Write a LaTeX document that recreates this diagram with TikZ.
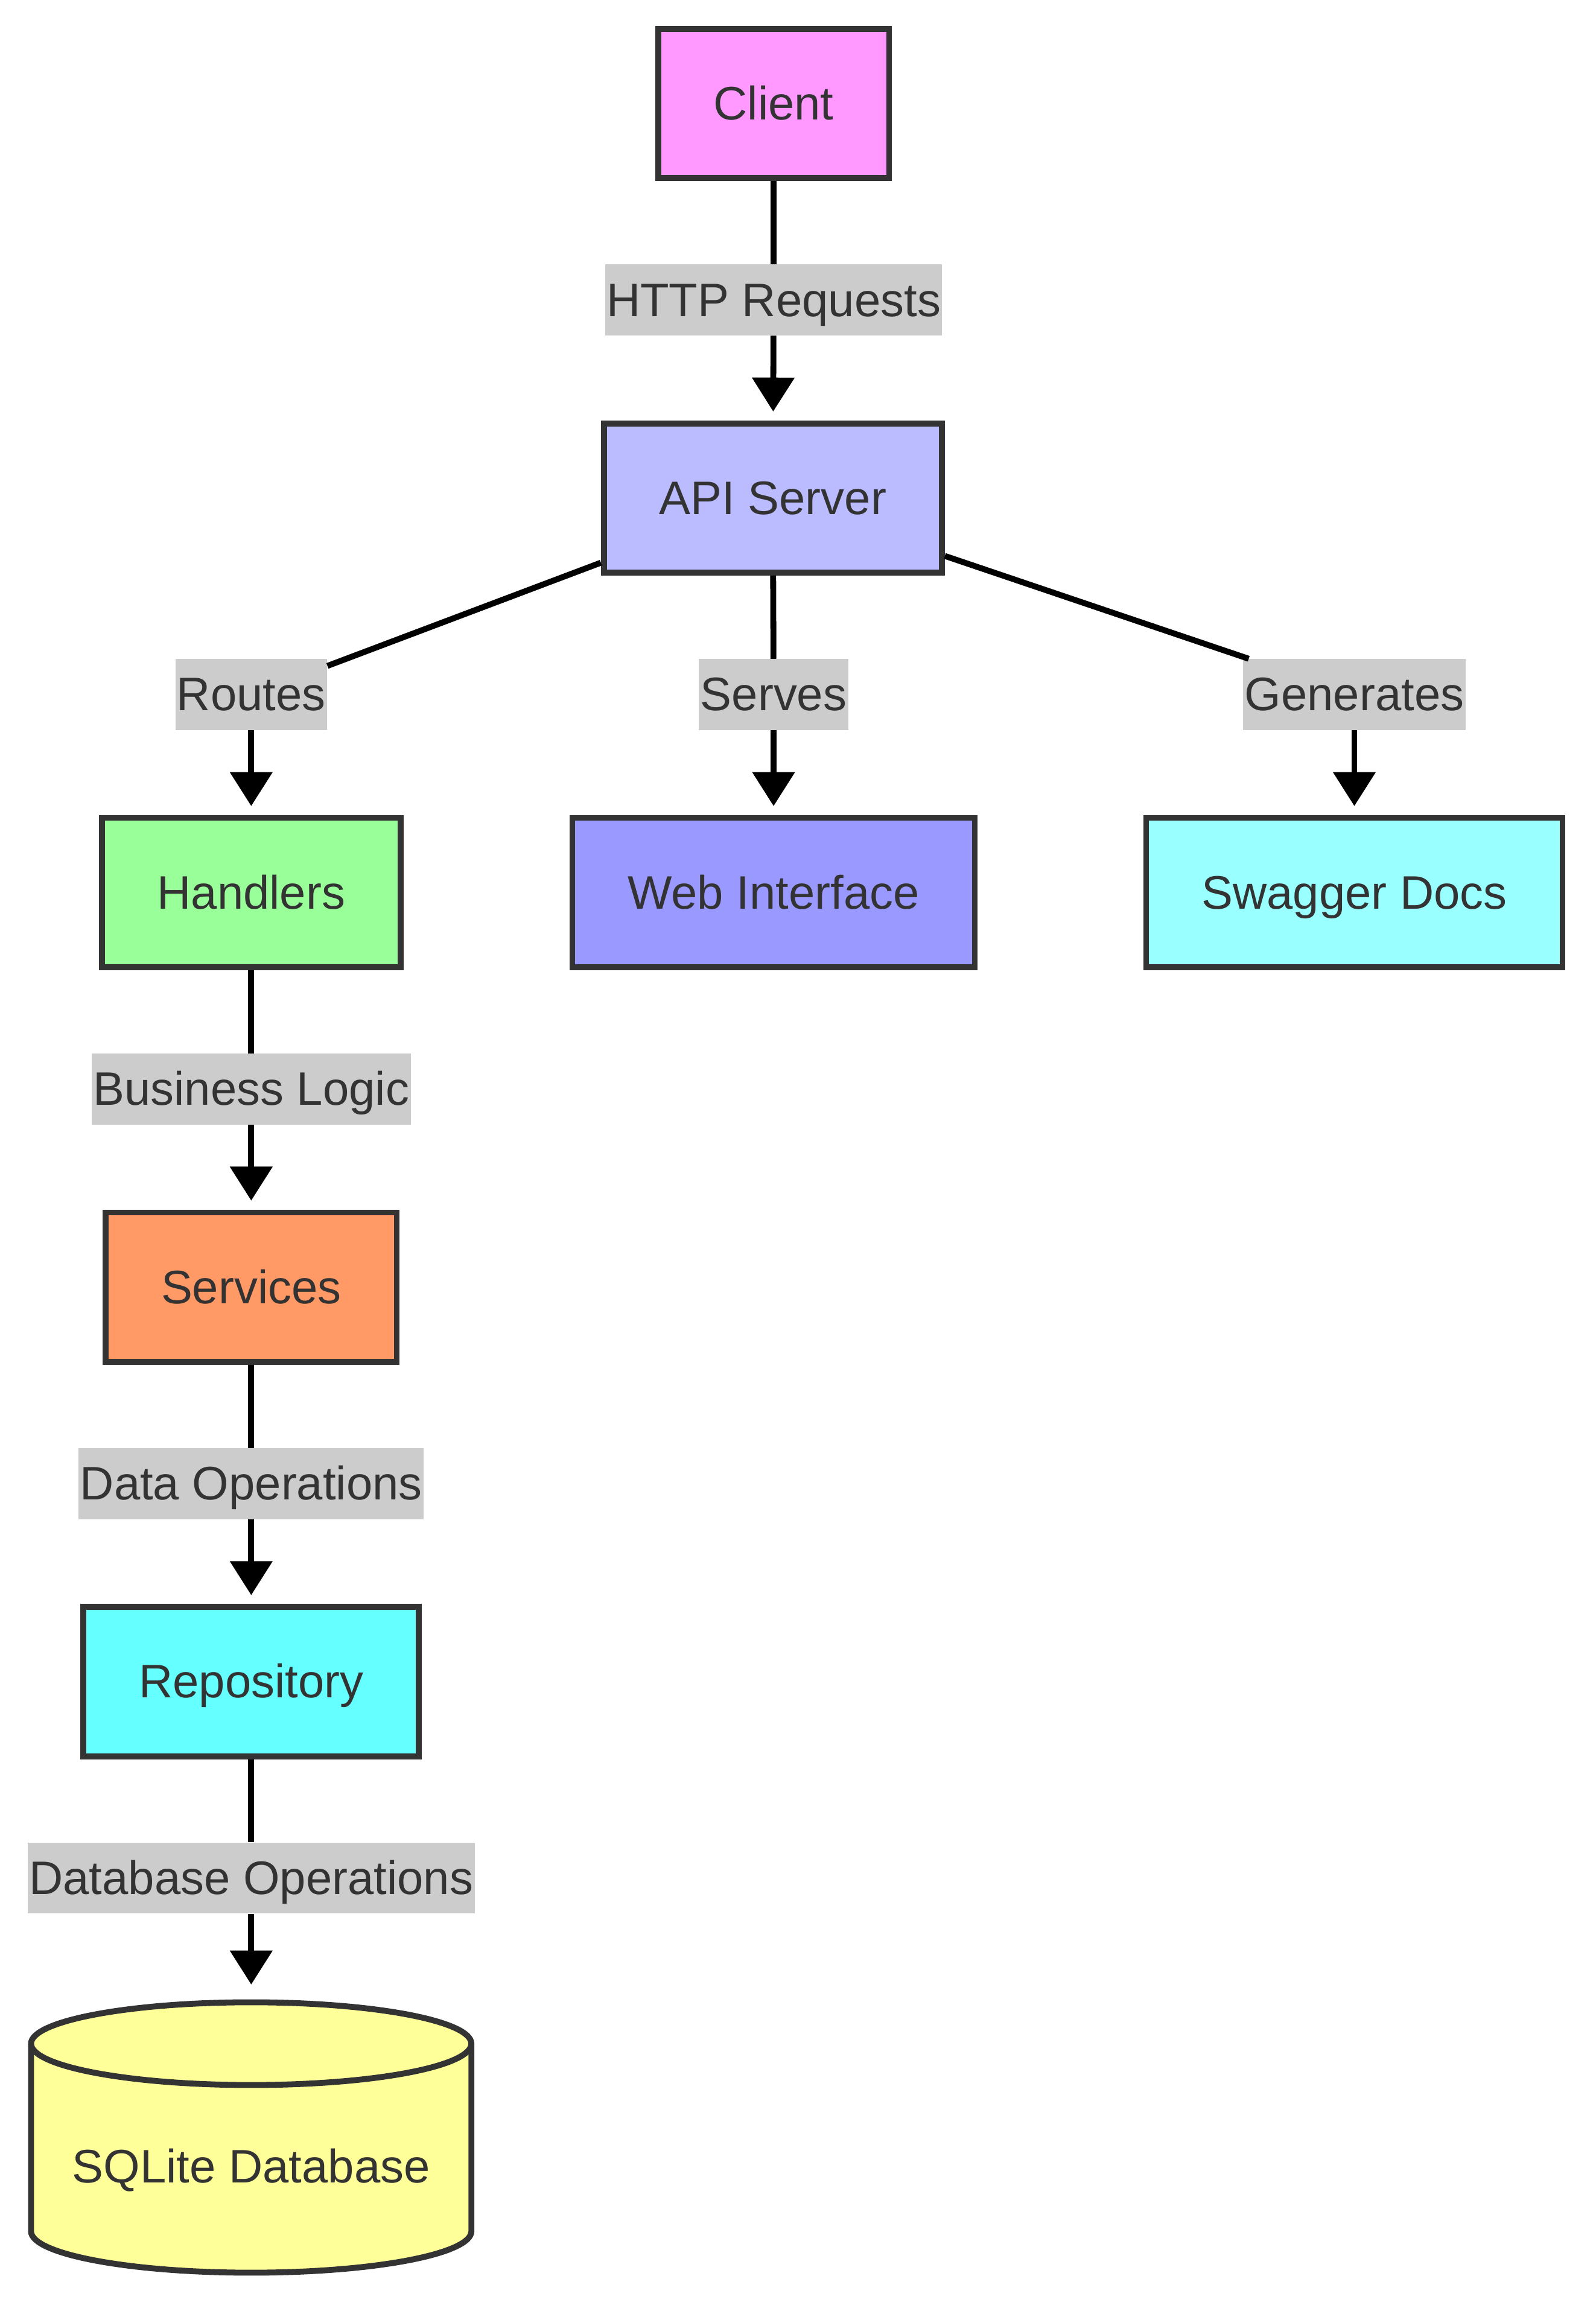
\documentclass[tikz,border=0pt]{standalone}
\usepackage{fontspec}
\setmainfont{Liberation Sans}
\usetikzlibrary{arrows.meta,backgrounds}
\definecolor{textgray}{HTML}{333333}
\definecolor{labelgray}{HTML}{CCCCCC}
\definecolor{clientpink}{HTML}{FF99FF}
\definecolor{apiblue}{HTML}{BBBBFF}
\definecolor{handlergreen}{HTML}{99FF99}
\definecolor{webblue}{HTML}{9999FF}
\definecolor{swaggercyan}{HTML}{99FFFF}
\definecolor{serviceorange}{HTML}{FF9966}
\definecolor{repocyan}{HTML}{66FFFF}
\definecolor{dbyellow}{HTML}{FFFF99}

\begin{document}
\begin{tikzpicture}[x=1pt,y=-1pt,font=\fontsize{31.8pt}{38pt}\selectfont,
  every node/.style={text=textgray},
  block/.style={draw=textgray,line width=4pt,inner xsep=37.5pt,minimum height=101pt,text height=28pt,text depth=6pt},
  elabel/.style={fill=labelgray,inner xsep=1pt,inner ysep=0pt,minimum height=48pt,text height=28pt,text depth=6pt},
  dbbody/.style={minimum width=298pt,minimum height=183pt,inner sep=0pt,outer sep=0pt,text height=68pt,text depth=7pt},
  dbline/.style={draw=textgray,line width=4pt,fill=dbyellow},
  link/.style={line width=4pt},
  flow/.style={line width=4pt,-{Triangle[length=23pt,width=28pt]},shorten >=6pt}]
  \useasboundingbox (0,0) rectangle (1080,1568);
  \node[block,fill=clientpink] (client) at (523.5,70) {Client};
  \node[block,fill=apiblue] (api) at (523,337) {API Server};
  \node[block,fill=handlergreen] (handlers) at (170,604) {Handlers};
  \node[block,fill=webblue] (web) at (523.5,604) {Web Interface};
  \node[block,fill=swaggercyan] (swagger) at (916.5,604) {Swagger Docs};
  \node[block,fill=serviceorange] (services) at (170,871) {Services};
  \node[block,fill=repocyan] (repo) at (170,1138) {Repository};
  \node[dbbody] (db) at (170,1446.5) {SQLite Database};

  \node[elabel] (http) at (523.5,203) {HTTP Requests};
  \node[elabel] (routes) at (170,470) {Routes};
  \node[elabel] (serves) at (523.5,470) {Serves};
  \node[elabel] (generates) at (916.5,470) {Generates};
  \node[elabel] (logic) at (170,737) {Business Logic};
  \node[elabel] (dataops) at (170,1004) {Data Operations};
  \node[elabel] (dbops) at (170,1271) {Database Operations};

  \begin{pgfonlayer}{background}
    \draw[dbline] ([yshift=-28pt]db.north west) -- ([yshift=28pt]db.south west)
      arc[start angle=180,end angle=360,x radius=149pt,y radius=28pt]
      -- ([yshift=-28pt]db.north east)
      arc[start angle=0,end angle=180,x radius=149pt,y radius=28pt] -- cycle;
    \draw[dbline,fill=none] ([yshift=-28pt]db.north west)
      arc[start angle=180,end angle=360,x radius=149pt,y radius=28pt];
  \end{pgfonlayer}

  \draw[link] (client) -- (http);
  \draw[flow] (http) -- (api);
  \draw[link] (api) -- (routes);
  \draw[flow] (routes) -- (handlers);
  \draw[link] (api) -- (serves);
  \draw[flow] (serves) -- (web);
  \draw[link] (api) -- (generates);
  \draw[flow] (generates) -- (swagger);
  \draw[link] (handlers) -- (logic);
  \draw[flow] (logic) -- (services);
  \draw[link] (services) -- (dataops);
  \draw[flow] (dataops) -- (repo);
  \draw[link] (repo) -- (dbops);
  \draw[flow,shorten >=12pt] (dbops) -- (db);
\end{tikzpicture}
\end{document}
